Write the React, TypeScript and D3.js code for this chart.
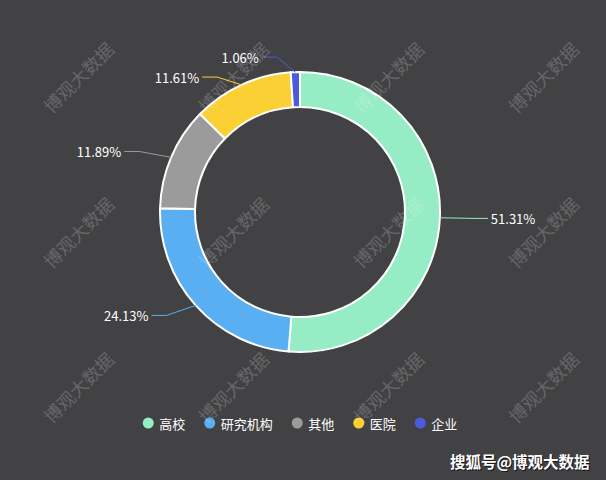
import React from 'react';
import * as d3 from 'd3';

const categories = ['高校', '研究机构', '其他', '医院', '企业'];
const values = [51.31, 24.13, 11.89, 11.61, 1.06];
const colors = ['#96ecc5', '#5aaef2', '#9b9b9b', '#fad035', '#4b5bdc'];
const watermarkText = '博观大数据';
const footerText = '搜狐号@博观大数据';

const W = 606;
const H = 480;
const BG = '#424244';
const FONT = '"Noto Sans CJK SC", "Microsoft YaHei", sans-serif';

export default function App() {
  const cx = 300;
  const cy = 212;
  const R = 140;
  const r0 = 105;
  const L1 = 15;
  const L2 = 15;

  const pie = d3.pie<number>().sort(null).value((d) => d).startAngle(0).endAngle(2 * Math.PI);
  const arcs = pie(values);
  const arcGen = d3.arc<d3.PieArcDatum<number>>().innerRadius(r0).outerRadius(R);

  type Lab = { i: number; dx: number; dy: number; ax: number; ay: number; y: number; side: number };
  const labs: Lab[] = arcs.map((a, i) => {
    const mid = (a.startAngle + a.endAngle) / 2;
    const dx = Math.sin(mid);
    const dy = -Math.cos(mid);
    return {
      i,
      dx,
      dy,
      ax: cx + R * dx,
      ay: cy + R * dy,
      y: cy + (R + L1) * dy,
      side: dx >= 0 ? 1 : -1,
    };
  });
  // simple overlap avoidance per side
  [1, -1].forEach((s) => {
    const group = labs.filter((l) => l.side === s).sort((a, b) => a.y - b.y);
    for (let k = 1; k < group.length; k++) {
      if (group[k].y < group[k - 1].y + 20) group[k].y = group[k - 1].y + 20;
    }
  });

  // legend layout
  const legFont = 13;
  const legAdv = categories.map((c) => 11 + legFont * c.length + 24.5);
  const lastW = 11 + legFont * categories[categories.length - 1].length;
  const legTotal = 5.5 + d3.sum(legAdv.slice(0, -1)) + lastW;
  const legX0 = cx - legTotal / 2 + 5.5;
  const legY = 423;
  const legXs = legAdv.map((_, i) => legX0 + d3.sum(legAdv.slice(0, i)));

  const wmX = d3.range(4).map((i) => 78 + 155 * i);
  const wmY = d3.range(3).map((i) => 77 + 155 * i);

  return (
    <svg
      width={W}
      height={H}
      style={{ position: 'fixed', left: 0, top: 0, display: 'block' }}
      fontFamily={FONT}
    >
      <rect width={W} height={H} fill={BG} />
      <g transform={`translate(${cx},${cy})`}>
        {arcs.map((a, i) => (
          <path key={i} d={arcGen(a) || ''} fill={colors[i]} stroke="#fff" strokeWidth={2} strokeLinejoin="round" />
        ))}
      </g>
      {labs.map((l) => {
        const bx = l.ax + l.side * (L1 * Math.abs(l.dx) + 18);
        const ex = bx + l.side * L2;
        const pts: [number, number][] = [
          [l.ax, l.ay],
          [bx, l.y],
          [ex, l.y],
        ];
        return (
          <g key={l.i}>
            <path d={d3.line()(pts) || ''} fill="none" stroke={colors[l.i]} strokeWidth={1} />
            <text
              x={ex + l.side * 3}
              y={l.y}
              dominantBaseline="central"
              textAnchor={l.side > 0 ? 'start' : 'end'}
              fill="#fff"
              fontSize={13}
            >
              {values[l.i].toFixed(2)}%
            </text>
          </g>
        );
      })}
      {categories.map((c, i) => (
        <g key={c}>
          <circle cx={legXs[i]} cy={legY} r={5.5} fill={colors[i]} />
          <text x={legXs[i] + 11} y={legY} dominantBaseline="central" fill="#fff" fontSize={legFont}>
            {c}
          </text>
        </g>
      ))}
      {wmY.map((y) =>
        wmX.map((x) => (
          <text
            key={`${x}-${y}`}
            transform={`translate(${x},${y}) rotate(-45)`}
            textAnchor="middle"
            dominantBaseline="central"
            fontSize={18}
            fill="#fff"
            fillOpacity={0.2}
          >
            {watermarkText}
          </text>
        ))
      )}
      <text x={451} y={462} dominantBaseline="central" fontSize={15.5} fontWeight="bold" fill="#000" fillOpacity={0.7}>
        {footerText}
      </text>
      <text x={450} y={461} dominantBaseline="central" fontSize={15.5} fontWeight="bold" fill="#fff">
        {footerText}
      </text>
    </svg>
  );
}
